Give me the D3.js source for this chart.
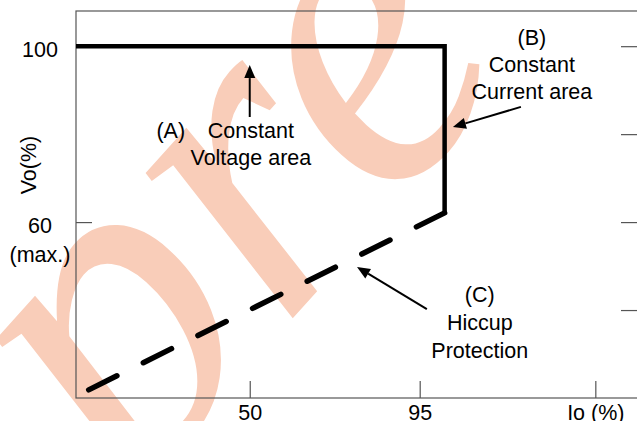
<!DOCTYPE html>
<html>
<head>
<meta charset="utf-8">
<script src="https://cdn.jsdelivr.net/npm/d3@7"></script>
<style>
    html, body { margin: 0; padding: 0; background: #fff; }
    svg { display: block; }
</style>
</head>
<body>
<div class="graph"></div>
<script>
const xTickValues = [50, 95, 141.5];
const xTickLabels = ["50", "95", "Io (%)"];
const yTickValues = [100, 60];
const yTickLabels = ["100", "60"];
const yRightTicks = [100, 80, 60, 40];

const constantLine = [
    { io: 4, vo: 100 },
    { io: 101.6, vo: 100 },
    { io: 101.6, vo: 62.1 }
];
const hiccupLine = [
    { io: 101.6, vo: 62.1 },
    { io: 6.3, vo: 21.4 }
];

const arrowStart = [[50, 83.9], [121.8, 86.2], [96.9, 40.2]];
const arrowEnd = [[50, 95.7], [103.8, 81.6], [78.4, 49.8]];

const noteTexts = [["Constant", "Voltage area"], ["(B)", "Constant", "Current area"], ["(C)", "Hiccup", "Protection"]];
const noteAnchor = [[50.3, 79.12], [124.7, 100.27], [110.9, 41.83]];

const sansFont = "'Liberation Sans', Arial, sans-serif";

function chartGenerator(width, height) {
    const configuration = {
        left: 76,
        right: 638,
        top: 11,
        bottom: 398,
        font_size: 21.5,
        tick: 17,
        frame: "#555"
    };

    let scale_x = d3.scaleLinear()
        .domain([4, 152.8])
        .range([configuration.left, configuration.right]);

    let scale_y = d3.scaleLinear()
        .domain([20, 108])
        .range([configuration.bottom, configuration.top]);

    let svg = d3.select(".graph")
        .append("svg")
        .attr("width", width)
        .attr("height", height)
        .style("font-family", sansFont);

    // watermark
    svg
        .append("text")
        .text("pre")
        .attr("transform", "translate(130,499) rotate(-48)")
        .style("font-family", "'Liberation Serif', 'DejaVu Serif', serif")
        .style("font-style", "italic")
        .attr("font-size", 450)
        .attr("fill", "#f9cdb9");

    // frame
    svg
        .append("rect")
        .attr("x", configuration.left)
        .attr("y", configuration.top)
        .attr("width", configuration.right - configuration.left)
        .attr("height", configuration.bottom - configuration.top)
        .attr("fill", "none")
        .attr("stroke", configuration.frame)
        .attr("stroke-width", 1.2);

    let xAxis = d3.axisBottom(scale_x)
        .tickValues(xTickValues)
        .tickSizeInner(-configuration.tick)
        .tickSizeOuter(0)
        .tickFormat((d, i) => xTickLabels[i]);

    let gx = svg.append("g")
        .attr("transform", `translate(0,${configuration.bottom})`)
        .call(xAxis);

    let yAxis = d3.axisLeft(scale_y)
        .tickValues(yTickValues)
        .tickSizeInner(-16)
        .tickSizeOuter(0)
        .tickFormat((d, i) => yTickLabels[i]);

    let gy = svg.append("g")
        .attr("transform", `translate(${configuration.left},0)`)
        .call(yAxis);

    let yAxisRight = d3.axisRight(scale_y)
        .tickValues(yRightTicks)
        .tickSizeInner(-configuration.tick)
        .tickSizeOuter(0)
        .tickFormat("");

    let gyr = svg.append("g")
        .attr("transform", `translate(${configuration.right},0)`)
        .call(yAxisRight);

    [gx, gy, gyr].forEach(g => {
        g.attr("font-family", null).attr("font-size", null);
        g.select(".domain").remove();
        g.selectAll(".tick line").attr("stroke", configuration.frame).attr("stroke-width", 1.2);
        g.selectAll(".tick text")
            .attr("fill", "#000")
            .attr("font-size", configuration.font_size);
    });

    gx.selectAll(".tick text").attr("dy", 0).attr("y", 22);

    gy.selectAll(".tick text")
        .attr("text-anchor", "middle")
        .attr("x", 40 - configuration.left)
        .attr("dy", 0)
        .attr("y", 10);

    gy.selectAll(".tick")
        .filter(d => d === 60)
        .append("text")
        .text("(max.)")
        .attr("fill", "#000")
        .attr("font-size", configuration.font_size)
        .attr("text-anchor", "middle")
        .attr("x", 40 - configuration.left)
        .attr("y", 39);

    svg
        .append("text")
        .text("Vo(%)")
        .attr("font-size", configuration.font_size)
        .attr("text-anchor", "middle")
        .attr("transform", "translate(36,165) rotate(-90)");

    let line = d3.line()
        .x(d => scale_x(d.io))
        .y(d => scale_y(d.vo));

    svg
        .append("path")
        .datum(constantLine)
        .attr("d", line)
        .attr("fill", "none")
        .attr("stroke", "#000")
        .attr("stroke-width", 4.5)
        .attr("stroke-linejoin", "miter")
        .attr("stroke-linecap", "butt");

    svg
        .append("path")
        .datum(hiccupLine)
        .attr("d", line)
        .attr("fill", "none")
        .attr("stroke", "#000")
        .attr("stroke-width", 5.5)
        .attr("stroke-linecap", "round")
        .attr("stroke-dasharray", "31.5,29.5");

    // arrows
    arrowStart.forEach((s, i) => {
        const x1 = scale_x(s[0]), y1 = scale_y(s[1]);
        const x2 = scale_x(arrowEnd[i][0]), y2 = scale_y(arrowEnd[i][1]);
        const len = Math.hypot(x2 - x1, y2 - y1);
        const ux = (x2 - x1) / len, uy = (y2 - y1) / len;
        const headLen = 13, headHalf = 5.5;
        const bx = x2 - ux * headLen, by = y2 - uy * headLen;

        svg
            .append("line")
            .attr("x1", x1)
            .attr("y1", y1)
            .attr("x2", bx)
            .attr("y2", by)
            .attr("stroke", "#000")
            .attr("stroke-width", 2);

        svg
            .append("path")
            .attr("d", `M${x2},${y2}L${bx - uy * headHalf},${by + ux * headHalf}L${bx + uy * headHalf},${by - ux * headHalf}Z`)
            .attr("fill", "#000");
    });

    // notes
    noteTexts.forEach((lines, i) => {
        svg
            .append("g")
            .selectAll("text")
            .data(lines)
            .join("text")
            .text(d => d)
            .attr("font-size", configuration.font_size)
            .attr("text-anchor", "middle")
            .attr("x", scale_x(noteAnchor[i][0]))
            .attr("y", (d, j) => scale_y(noteAnchor[i][1]) + j * (i === 2 ? 28 : 27));
    });

    svg
        .append("text")
        .text("(A)")
        .attr("font-size", configuration.font_size)
        .attr("text-anchor", "middle")
        .attr("x", scale_x(29.1))
        .attr("y", scale_y(79.12));
}

chartGenerator(637, 421);
</script>
</body>
</html>
